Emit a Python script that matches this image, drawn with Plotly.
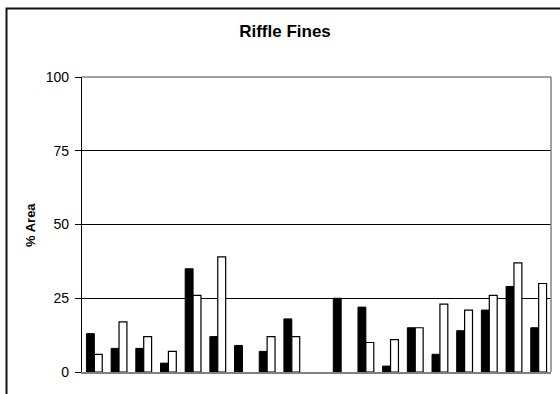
import plotly.graph_objects as go

categories = [str(i) for i in range(1, 20)]
series_black = [13, 8, 8, 3, 35, 12, 9, 7, 18, None, 25, 22, 2, 15, 6, 14, 21, 29, 15]
series_white = [6, 17, 12, 7, 26, 39, None, 12, 12, None, None, 10, 11, 15, 23, 21, 26, 37, 30]
y_ticks = [0, 25, 50, 75, 100]

W, H = 560, 394
L, R, T, B = 82, 9, 77, 22
pw, ph = W - L - R, H - T - B

fig = go.Figure()
fig.add_trace(go.Bar(x=categories, y=series_black, name="A",
                     marker=dict(color="black", line=dict(color="black", width=1))))
fig.add_trace(go.Bar(x=categories, y=series_white, name="B",
                     marker=dict(color="white", line=dict(color="black", width=1.2))))

def px_x(p):
    return (p - L) / pw

def px_y(p):
    return (H - B - p) / ph

fig.update_layout(
    width=W, height=H,
    margin=dict(l=L, r=R, t=T, b=B),
    paper_bgcolor="white", plot_bgcolor="white",
    barmode="group", bargap=0.36, bargroupgap=0,
    showlegend=False,
    font=dict(family="Arial, Liberation Sans, sans-serif", color="black"),
    title=dict(text="<b>Riffle Fines</b>", x=285 / W, xanchor="center",
               y=1 - 31 / H, yanchor="middle", font=dict(size=17, color="black")),
    xaxis=dict(showticklabels=False, ticks="", showgrid=False, zeroline=False,
               showline=True, linecolor="#808080", linewidth=1.5),
    yaxis=dict(range=[0, 100], tickvals=y_ticks, ticktext=[str(v) for v in y_ticks],
               showgrid=True, gridcolor="black", gridwidth=1, zeroline=False,
               showline=True, linecolor="black", linewidth=1.2,
               ticks="outside", ticklen=6, tickcolor="black", tickwidth=1,
               ticklabelstandoff=3,
               tickfont=dict(size=14, color="black")),
)

# plot-area border (top and right, grey)
fig.add_shape(type="line", xref="paper", yref="paper", x0=0, x1=1, y0=1, y1=1,
              line=dict(color="#808080", width=1.5), layer="above")
fig.add_shape(type="line", xref="paper", yref="paper", x0=1, x1=1, y0=0, y1=1,
              line=dict(color="#808080", width=1.5), layer="above")

# outer chart frame (cropped at right and bottom)
fig.add_shape(type="rect", xref="paper", yref="paper",
              x0=px_x(6.5), x1=px_x(600), y0=px_y(450), y1=px_y(8.5),
              line=dict(color="#111111", width=2), fillcolor="rgba(0,0,0,0)", layer="above")

fig.add_annotation(text="<b>% Area</b>", xref="paper", yref="paper",
                   x=px_x(30), y=px_y(225), textangle=-90, showarrow=False,
                   xanchor="center", yanchor="middle", font=dict(size=13, color="black"))

fig.write_html("out.html", config={"displayModeBar": False},
               post_script="document.body.style.margin='0';")
